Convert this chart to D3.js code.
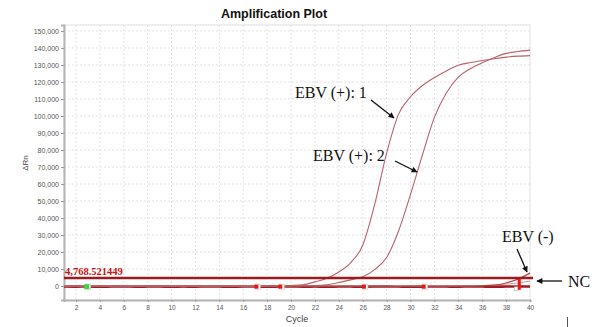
<!DOCTYPE html>
<html>
<head>
<meta charset="utf-8">
<script src="https://cdn.jsdelivr.net/npm/d3@7/dist/d3.min.js"></script>
<style>
    html, body { margin: 0; padding: 0; background: #fff; }
    svg { display: block; }
</style>
</head>
<body>
<div id="chart"></div>
<script>
'use strict';

// chart data
var cycles = [1, 2, 3, 4, 5, 6, 7, 8, 9, 10, 11, 12, 13, 14, 15, 16, 17, 18, 19, 20,
    21, 22, 23, 24, 25, 26, 27, 28, 29, 30, 31, 32, 33, 34, 35, 36, 37, 38, 39, 40];

var ebvPos1 = [120, -80, 40, 150, -60, 90, -120, 60, 30, -90, 110, -40, 70, -100, 50, 20, -60, 130, 180, 350,
    770, 2470, 4600, 8300, 13800, 24000, 48000, 78100, 101100, 111300,
    117900, 122600, 126500, 129800, 131400, 132600, 133700, 134600, 135200, 135500];

var ebvPos2 = [-60, 90, -30, 60, 120, -90, 40, -70, 100, 20, -110, 60, -40, 90, -20, 70, -90, 40, 110, 150,
    200, 300, 800, 2060, 3650, 5420, 9700, 16800, 32400, 53900,
    77200, 99200, 113500, 122800, 127800, 131300, 134300, 136800, 137900, 138700];

var ebvNeg = [-150, -50, -200, -100, 50, -150, -250, -100, 0, -200, -50, -150, -250, -100, -50, -200, -150, 0, -100, -200,
    -250, -100, -50, -150, -200, -100, 0, -150, -250, -100, -50, -200, -150, -100, 0, 150, 500, 1800, 4100, 7600];

var ncTrace = [-300, -350, -250, -400, -300, -200, -350, -300, -250, -400, -300, -350, -200, -300, -400, -250, -300, -350, -300, -250,
    -350, -300, -400, -250, -300, -350, -300, -200, -300, -400, -350, -250, -300, -350, -250, -300, -350, -300, -250, -300];

var ncTrace2 = [100, 50, 150, 0, 100, 200, 50, 100, 0, 150, 100, 50, 200, 100, 50, 150, 0, 100, 150, 50,
    100, 0, 150, 100, 50, 100, 150, 50, 100, 0, 100, 150, 50, 100, 200, 300, 600, 1100, 1800, 2900];

var thresholdValue = 4768.521449;
var thresholdLabel = '4,768.521449';

var yTicks = [0, 10000, 20000, 30000, 40000, 50000, 60000, 70000, 80000, 90000,
    100000, 110000, 120000, 130000, 140000, 150000];
var xTicks = [2, 4, 6, 8, 10, 12, 14, 16, 18, 20, 22, 24, 26, 28, 30, 32, 34, 36, 38, 40];

// small well markers sitting on the baseline
var greenMarkers = [{cycle: 2.9, value: -350}];
var redMarkers = [
    {cycle: 17.1, value: -350},
    {cycle: 19.1, value: -350},
    {cycle: 26.1, value: -350},
    {cycle: 31.1, value: -350}
];
var redBar = {cycle: 39.1, from: -2200, to: 4200};

var width = 595,
    height = 327,
    plot = {left: 64, right: 530, top: 25, bottom: 300};

var svg = d3.select('#chart')
    .append('svg')
    .attr('width', width)
    .attr('height', height)
    .style('font-family', '"Liberation Sans", Arial, sans-serif');

var x = d3.scaleLinear().domain([1, 40]).range([plot.left, plot.right]);
var y = d3.scaleLinear().domain([-8200, 153500]).range([plot.bottom, plot.top]);

var defs = svg.append('defs');
defs.append('marker')
    .attr('id', 'arrow')
    .attr('viewBox', '0 0 10 10')
    .attr('refX', 9)
    .attr('refY', 5)
    .attr('markerWidth', 7)
    .attr('markerHeight', 6)
    .attr('markerUnits', 'userSpaceOnUse')
    .attr('orient', 'auto')
    .append('path')
    .attr('d', 'M0,0L10,5L0,10Z')
    .attr('fill', '#111');
defs.append('clipPath')
    .attr('id', 'plot-clip')
    .append('rect')
    .attr('x', plot.left)
    .attr('y', plot.top)
    .attr('width', plot.right - plot.left + 3)
    .attr('height', plot.bottom - plot.top);

// title
svg.append('text')
    .attr('x', 274)
    .attr('y', 18)
    .attr('text-anchor', 'middle')
    .style('font-weight', 'bold')
    .style('font-size', '12.5px')
    .style('fill', '#111')
    .text('Amplification Plot');

// dashed grid
var grid = svg.append('g').attr('class', 'grid');
grid.selectAll('line.h')
    .data(yTicks)
    .enter().append('line')
    .attr('class', 'h')
    .attr('x1', plot.left)
    .attr('x2', plot.right)
    .attr('y1', function(d) { return y(d); })
    .attr('y2', function(d) { return y(d); });
grid.selectAll('line.v')
    .data(xTicks.slice(0, -1))
    .enter().append('line')
    .attr('class', 'v')
    .attr('y1', plot.top)
    .attr('y2', plot.bottom)
    .attr('x1', function(d) { return x(d); })
    .attr('x2', function(d) { return x(d); });
grid.selectAll('line')
    .attr('stroke', '#e2e2e2')
    .attr('stroke-width', 1)
    .attr('stroke-dasharray', '2,2');

// frame
svg.append('rect')
    .attr('x', plot.left)
    .attr('y', plot.top)
    .attr('width', plot.right - plot.left)
    .attr('height', plot.bottom - plot.top)
    .attr('fill', 'none')
    .attr('stroke', '#e0e0e0');

// axes
var yAxis = svg.append('g')
    .attr('transform', 'translate(' + plot.left + ',0)')
    .call(d3.axisLeft(y).tickValues(yTicks).tickFormat(d3.format(',')).tickSize(3).tickPadding(2));
var xAxis = svg.append('g')
    .attr('transform', 'translate(0,' + plot.bottom + ')')
    .call(d3.axisBottom(x).tickValues(xTicks).tickSize(2).tickPadding(3));
[yAxis, xAxis].forEach(function(axis) {
    axis.select('.domain').attr('stroke', '#b4b4b4').attr('stroke-width', 2);
    axis.selectAll('.tick line').attr('stroke', '#999');
    axis.selectAll('.tick text')
        .style('font-family', '"Liberation Sans", Arial, sans-serif')
        .style('fill', '#555');
});
yAxis.selectAll('.tick text').style('font-size', '7px');
xAxis.selectAll('.tick text').style('font-size', '6.5px');

svg.append('text')
    .attr('transform', 'translate(28,163) rotate(-90)')
    .attr('text-anchor', 'middle')
    .style('font-size', '8px')
    .style('fill', '#444')
    .text('\u0394Rn');
svg.append('text')
    .attr('x', 297)
    .attr('y', 322)
    .attr('text-anchor', 'middle')
    .style('font-size', '9px')
    .style('fill', '#444')
    .text('Cycle');

// traces
var traces = svg.append('g').attr('clip-path', 'url(#plot-clip)');
var line = d3.line()
    .x(function(d, i) { return x(cycles[i]); })
    .y(function(d) { return y(d); })
    .curve(d3.curveMonotoneX);

function addTrace(values, color, strokeWidth) {
    traces.append('path')
        .datum(values)
        .attr('d', line)
        .attr('fill', 'none')
        .attr('stroke', color)
        .attr('stroke-width', strokeWidth)
        .attr('stroke-linejoin', 'round');
}

addTrace(ncTrace, '#9e1c22', 2.6);
addTrace(ncTrace2, '#c9a3a5', 1);
addTrace(ebvNeg, '#b0454a', 1.2);
addTrace(ebvPos1, '#b9626a', 1.1);
addTrace(ebvPos2, '#b9626a', 1.1);

// threshold
traces.append('line')
    .attr('x1', plot.left)
    .attr('x2', plot.right + 3)
    .attr('y1', y(thresholdValue))
    .attr('y2', y(thresholdValue))
    .attr('stroke', '#9b1b1f')
    .attr('stroke-width', 2.6);
svg.append('text')
    .attr('x', plot.left + 1)
    .attr('y', y(thresholdValue) - 3)
    .style('font-family', '"Liberation Serif", "Times New Roman", serif')
    .style('font-weight', 'bold')
    .style('font-size', '10.5px')
    .style('fill', '#c81414')
    .text(thresholdLabel);

// markers
var markers = svg.append('g');
markers.selectAll('rect.outline')
    .data(greenMarkers.concat(redMarkers))
    .enter().append('rect')
    .attr('class', 'outline')
    .attr('x', function(d) { return x(d.cycle) - 1; })
    .attr('y', function(d) { return y(d.value) - 2.5; })
    .attr('width', 5)
    .attr('height', 5)
    .attr('fill', '#fff')
    .attr('stroke', '#bbb')
    .attr('stroke-width', 0.6);
markers.selectAll('rect.green')
    .data(greenMarkers)
    .enter().append('rect')
    .attr('class', 'green')
    .attr('x', function(d) { return x(d.cycle) - 2.5; })
    .attr('y', function(d) { return y(d.value) - 2.5; })
    .attr('width', 5)
    .attr('height', 5)
    .attr('fill', '#3bd93b');
markers.selectAll('rect.red')
    .data(redMarkers)
    .enter().append('rect')
    .attr('class', 'red')
    .attr('x', function(d) { return x(d.cycle) - 2; })
    .attr('y', function(d) { return y(d.value) - 2; })
    .attr('width', 4)
    .attr('height', 4)
    .attr('fill', '#ee1414');
markers.append('rect')
    .attr('x', x(redBar.cycle) - 5)
    .attr('y', y(redBar.from) - 3)
    .attr('width', 4)
    .attr('height', 4)
    .attr('fill', '#fff')
    .attr('stroke', '#aaa')
    .attr('stroke-width', 0.6);
markers.append('rect')
    .attr('x', x(redBar.cycle) - 1.5)
    .attr('y', y(redBar.to))
    .attr('width', 3)
    .attr('height', y(redBar.from) - y(redBar.to))
    .attr('fill', '#ee1414');

// annotations
var notes = [
    {text: 'EBV (+): 1', tx: 295, ty: 98, from: [371, 100], to: [394, 118]},
    {text: 'EBV (+): 2', tx: 313, ty: 161, from: [395, 161], to: [417, 172]},
    {text: 'EBV (-)', tx: 502, ty: 242, from: [517, 249], to: [527, 272]},
    {text: 'NC', tx: 568, ty: 287, from: [562, 281], to: [537, 281]}
];
var ann = svg.append('g')
    .style('font-family', '"Liberation Serif", "Times New Roman", serif')
    .style('font-size', '16px');
ann.selectAll('text')
    .data(notes)
    .enter().append('text')
    .attr('x', function(d) { return d.tx; })
    .attr('y', function(d) { return d.ty; })
    .style('fill', '#111')
    .text(function(d) { return d.text; });
ann.selectAll('line')
    .data(notes)
    .enter().append('line')
    .attr('x1', function(d) { return d.from[0]; })
    .attr('y1', function(d) { return d.from[1]; })
    .attr('x2', function(d) { return d.to[0]; })
    .attr('y2', function(d) { return d.to[1]; })
    .attr('stroke', '#111')
    .attr('stroke-width', 1.3)
    .attr('marker-end', 'url(#arrow)');

// stray cursor mark in the source image
svg.append('line')
    .attr('x1', 567.5).attr('x2', 567.5)
    .attr('y1', 317).attr('y2', 327)
    .attr('stroke', '#555')
    .attr('stroke-width', 1);
</script>
</body>
</html>
